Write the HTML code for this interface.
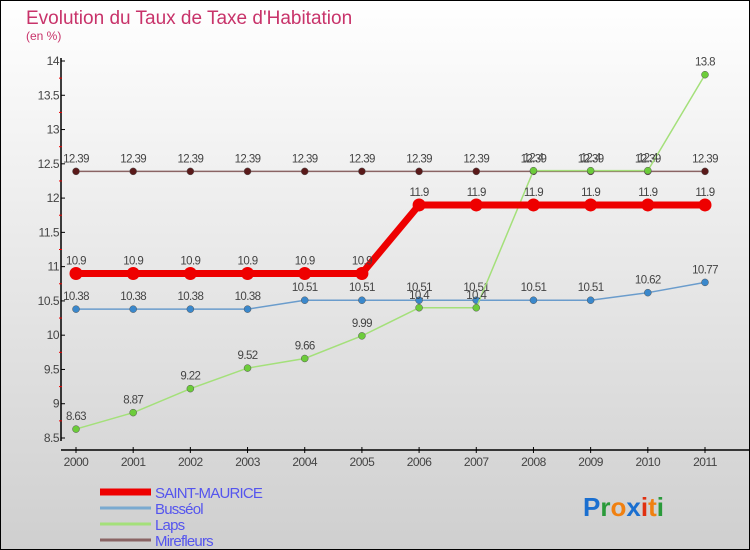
<!DOCTYPE html>
<html><head><meta charset="utf-8"><style>
body{margin:0;width:750px;height:550px;overflow:hidden}
svg{display:block;font-family:"Liberation Sans",sans-serif}
</style></head><body>
<svg id="c" width="750" height="550">
<defs><linearGradient id="bg" x1="0" y1="0" x2="0" y2="1"><stop offset="0" stop-color="#ffffff"/><stop offset="1" stop-color="#cfcfcf"/></linearGradient></defs>
<rect x="0.5" y="0.5" width="749" height="549" fill="url(#bg)" stroke="#000"/>
<text x="26" y="24" font-size="19" fill="#c8336a">Evolution du Taux de Taxe d'Habitation</text>
<text x="26" y="40" font-size="12" fill="#c8336a">(en %)</text>
<g id="axes"></g><g id="series"></g><g id="legend"></g>
<text x="583" y="516" font-size="26" font-weight="bold"><tspan fill="#1a6fd0">P</tspan><tspan fill="#2a9a3a">r</tspan><tspan fill="#f08010">o</tspan><tspan fill="#1a6fd0">x</tspan><tspan fill="#e03010">i</tspan><tspan fill="#f08010">t</tspan><tspan fill="#2a9a3a">i</tspan></text>
</svg>
<script>
const years=[2000,2001,2002,2003,2004,2005,2006,2007,2008,2009,2010,2011];
const yTicks=[8.5,9,9.5,10,10.5,11,11.5,12,12.5,13,13.5,14];
const saintMaurice=[10.9,10.9,10.9,10.9,10.9,10.9,11.9,11.9,11.9,11.9,11.9,11.9];
const busseol=[10.38,10.38,10.38,10.38,10.51,10.51,10.51,10.51,10.51,10.51,10.62,10.77];
const laps=[8.63,8.87,9.22,9.52,9.66,9.99,10.4,10.4,12.4,12.4,12.4,13.8];
const mirefleurs=[12.39,12.39,12.39,12.39,12.39,12.39,12.39,12.39,12.39,12.39,12.39,12.39];
const NS="http://www.w3.org/2000/svg";
const X=i=>76+i*(705-76)/(years.length-1);
const Y=v=>61+(14-v)*(438-61)/5.5;
function mk(p,t,a){const e=document.createElementNS(NS,t);for(const k in a)e.setAttribute(k,a[k]);p.appendChild(e);return e;}
const ax=document.getElementById('axes');
let l=mk(ax,'line',{x1:61,y1:58,x2:61,y2:441,stroke:'#000','stroke-width':1.5});


l=mk(ax,'line',{x1:61,y1:450,x2:750,y2:450,stroke:'#000','stroke-width':1.5});


yTicks.forEach((v,i)=>{
 mk(ax,'line',{x1:61,x2:65,y1:Y(v),y2:Y(v),stroke:'#000'});
 if(i<yTicks.length-1)mk(ax,'line',{x1:59,x2:62,y1:Y(v+0.25),y2:Y(v+0.25),stroke:'#e00'});
 const t=mk(ax,'text',{x:59,y:Y(v)+4,'text-anchor':'end','font-size':12,fill:'#444','letter-spacing':'-0.5'});
 t.textContent=String(v);
 
 
});
years.forEach((y,i)=>{
 mk(ax,'line',{x1:X(i),x2:X(i),y1:447,y2:453,stroke:'#000'});
 const t=mk(ax,'text',{x:X(i),y:466,'text-anchor':'middle','font-size':12,fill:'#444','letter-spacing':'-0.5'});
 t.textContent=y;
 
 
});
const sg=document.getElementById('series');
const series=[
 {n:'mirefleurs',d:mirefleurs,c:'#8a6464',w:1.5,r:3.5,f:'#5a1a1a'},
 {n:'busseol',d:busseol,c:'#6a9ccc',w:1.5,r:3.5,f:'#3a88cc'},
 {n:'laps',d:laps,c:'#a4e07a',w:1.5,r:3.5,f:'#6ccc3a'},
 {n:'saint-maurice',d:saintMaurice,c:'#ee0000',w:7,r:6.5,f:'#ee0000'}
];
series.forEach(s=>{
 const g=mk(sg,'g',{});
 
 
 const p=mk(g,'polyline',{points:s.d.map((v,i)=>X(i)+','+Y(v)).join(' '),fill:'none',stroke:s.c,'stroke-width':s.w});
 
 
 s.d.forEach((v,i)=>{
  const c=mk(g,'circle',{cx:X(i),cy:Y(v),r:s.r,fill:s.f,stroke:s.n=='saint-maurice'?'none':'#555','stroke-width':0.5});
  
  
  const t=mk(g,'text',{x:X(i),y:Y(v)-9,'text-anchor':'middle','font-size':11.5,fill:'#444','letter-spacing':'-0.6'});
  t.textContent=String(v);
  
  
 });
});
const lg=document.getElementById('legend');
const names=['SAINT-MAURICE','Busséol','Laps','Mirefleurs'];
const cols=['#ee0000','#7aaad0','#a4e07a','#8a6464'];
names.forEach((n,i)=>{
 const y=492+i*16;
 mk(lg,'line',{x1:100,x2:151,y1:y,y2:y,stroke:cols[i],'stroke-width':i==0?7:3});
 const t=mk(lg,'text',{x:155,y:y+6,'font-size':15,fill:'#5555ee','letter-spacing':'-0.8'});
 t.textContent=n;
 
 
});
</script>
</body></html>
